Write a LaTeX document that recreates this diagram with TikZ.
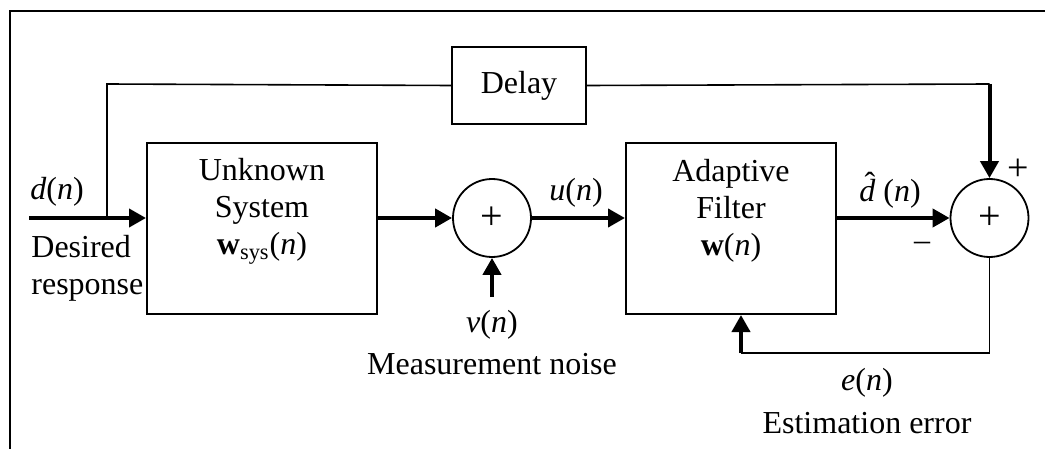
\documentclass[tikz,border=0pt]{standalone}
\usepackage{fontspec}
\setmainfont{Liberation Serif}
\usetikzlibrary{arrows.meta}

\tikzset{
  every node/.style={font=\fontsize{16}{18.5}\selectfont, inner sep=0pt},
  block/.style={draw, line width=1pt, rectangle},
  adder/.style={draw, line width=0.9pt, circle, minimum size=39pt, font=\fontsize{20}{20}\selectfont},
  thin line/.style={line width=0.8pt},
  signal/.style={line width=2pt, -{Triangle[length=8.5pt,width=9pt]}},
  frame/.style={line width=1.4pt},
}
% italic d with a circumflex set above its ascender
\newcommand{\dhatsym}{\makebox[0pt][l]{\kern2.6pt\raisebox{3.6pt}{ˆ}}\textit{d}}

\begin{document}
\begin{tikzpicture}[x=0.5pt,y=-0.5pt]
  \useasboundingbox (0,0) rectangle (1045,449);

  % open frame: top and left edges only
  \draw[frame] (10,449) -- (10,11) -- (1045,11);

  % blocks
  \node[block, minimum width=115pt, minimum height=85.5pt] (unk) at (262,228.5) {};
  \node[align=center] (unktxt) at (262,211) {Unknown\\System\\\textbf{w}\textsubscript{sys}(\textit{n})};
  \node[block, minimum width=67pt, minimum height=38.5pt] (delay) at (519,85.5) {Delay};
  \node[block, minimum width=105pt, minimum height=85.5pt] (adf) at (731,228.5) {};
  \node[align=center] (adftxt) at (731,211) {Adaptive\\Filter\\\textbf{w}(\textit{n})};

  % summing junctions
  \node[adder] (sum1) at (492,218) {+};
  \node[adder] (sum2) at (989.5,218) {+};

  % helper points
  \coordinate (in) at (29,218);
  \coordinate (tap) at (107,218);
  \coordinate (tapTop) at (107,84);
  \coordinate (dlyEnd) at (989.5,84);
  \coordinate (noise) at (492,297);
  \coordinate (errR) at (989.5,353);
  \coordinate (errL) at (741,353);

  % forward path
  \draw[signal] (in) -- (unk.west |- in);
  \draw[signal] (unk.east |- sum1) -- (sum1.west);
  \draw[signal] (sum1.east) -- (adf.west |- sum1);
  \draw[signal] (adf.east |- sum2) -- (sum2.west);
  \draw[signal] (noise) -- (sum1.south);

  % delayed reference path
  \draw[thin line] (tap) -- (tapTop) -- (delay.west);
  \draw[thin line] (delay.east) -- (dlyEnd);
  \draw[signal] (dlyEnd) -- (sum2.north);

  % error feedback
  \draw[thin line] (sum2.south) -- (errR) -- (errL);
  \draw[signal] (errL) -- (adf.south -| errL);

  % labels
  \node (ldn) at (57,192) {\textit{d}(\textit{n})};
  \node[align=left, anchor=west] (ldes) at (31,268) {Desired\\response};
  \node (lun) at (576,193) {\textit{u}(\textit{n})};
  \node (ldhat) at (890,190) {\dhatsym\ (\textit{n})};
  \node (lvn) at (492,325) {\textit{v}(\textit{n})};
  \node (lnoise) at (492,364) {Measurement noise};
  \node (len) at (867,383) {\textit{e}(\textit{n})};
  \node (lerr) at (867,423) {Estimation error};
  \node[font=\fontsize{19}{19}\selectfont] (lplus) at (1018,170) {+};
  \node (lminus) at (922,246) {–};
\end{tikzpicture}
\end{document}
